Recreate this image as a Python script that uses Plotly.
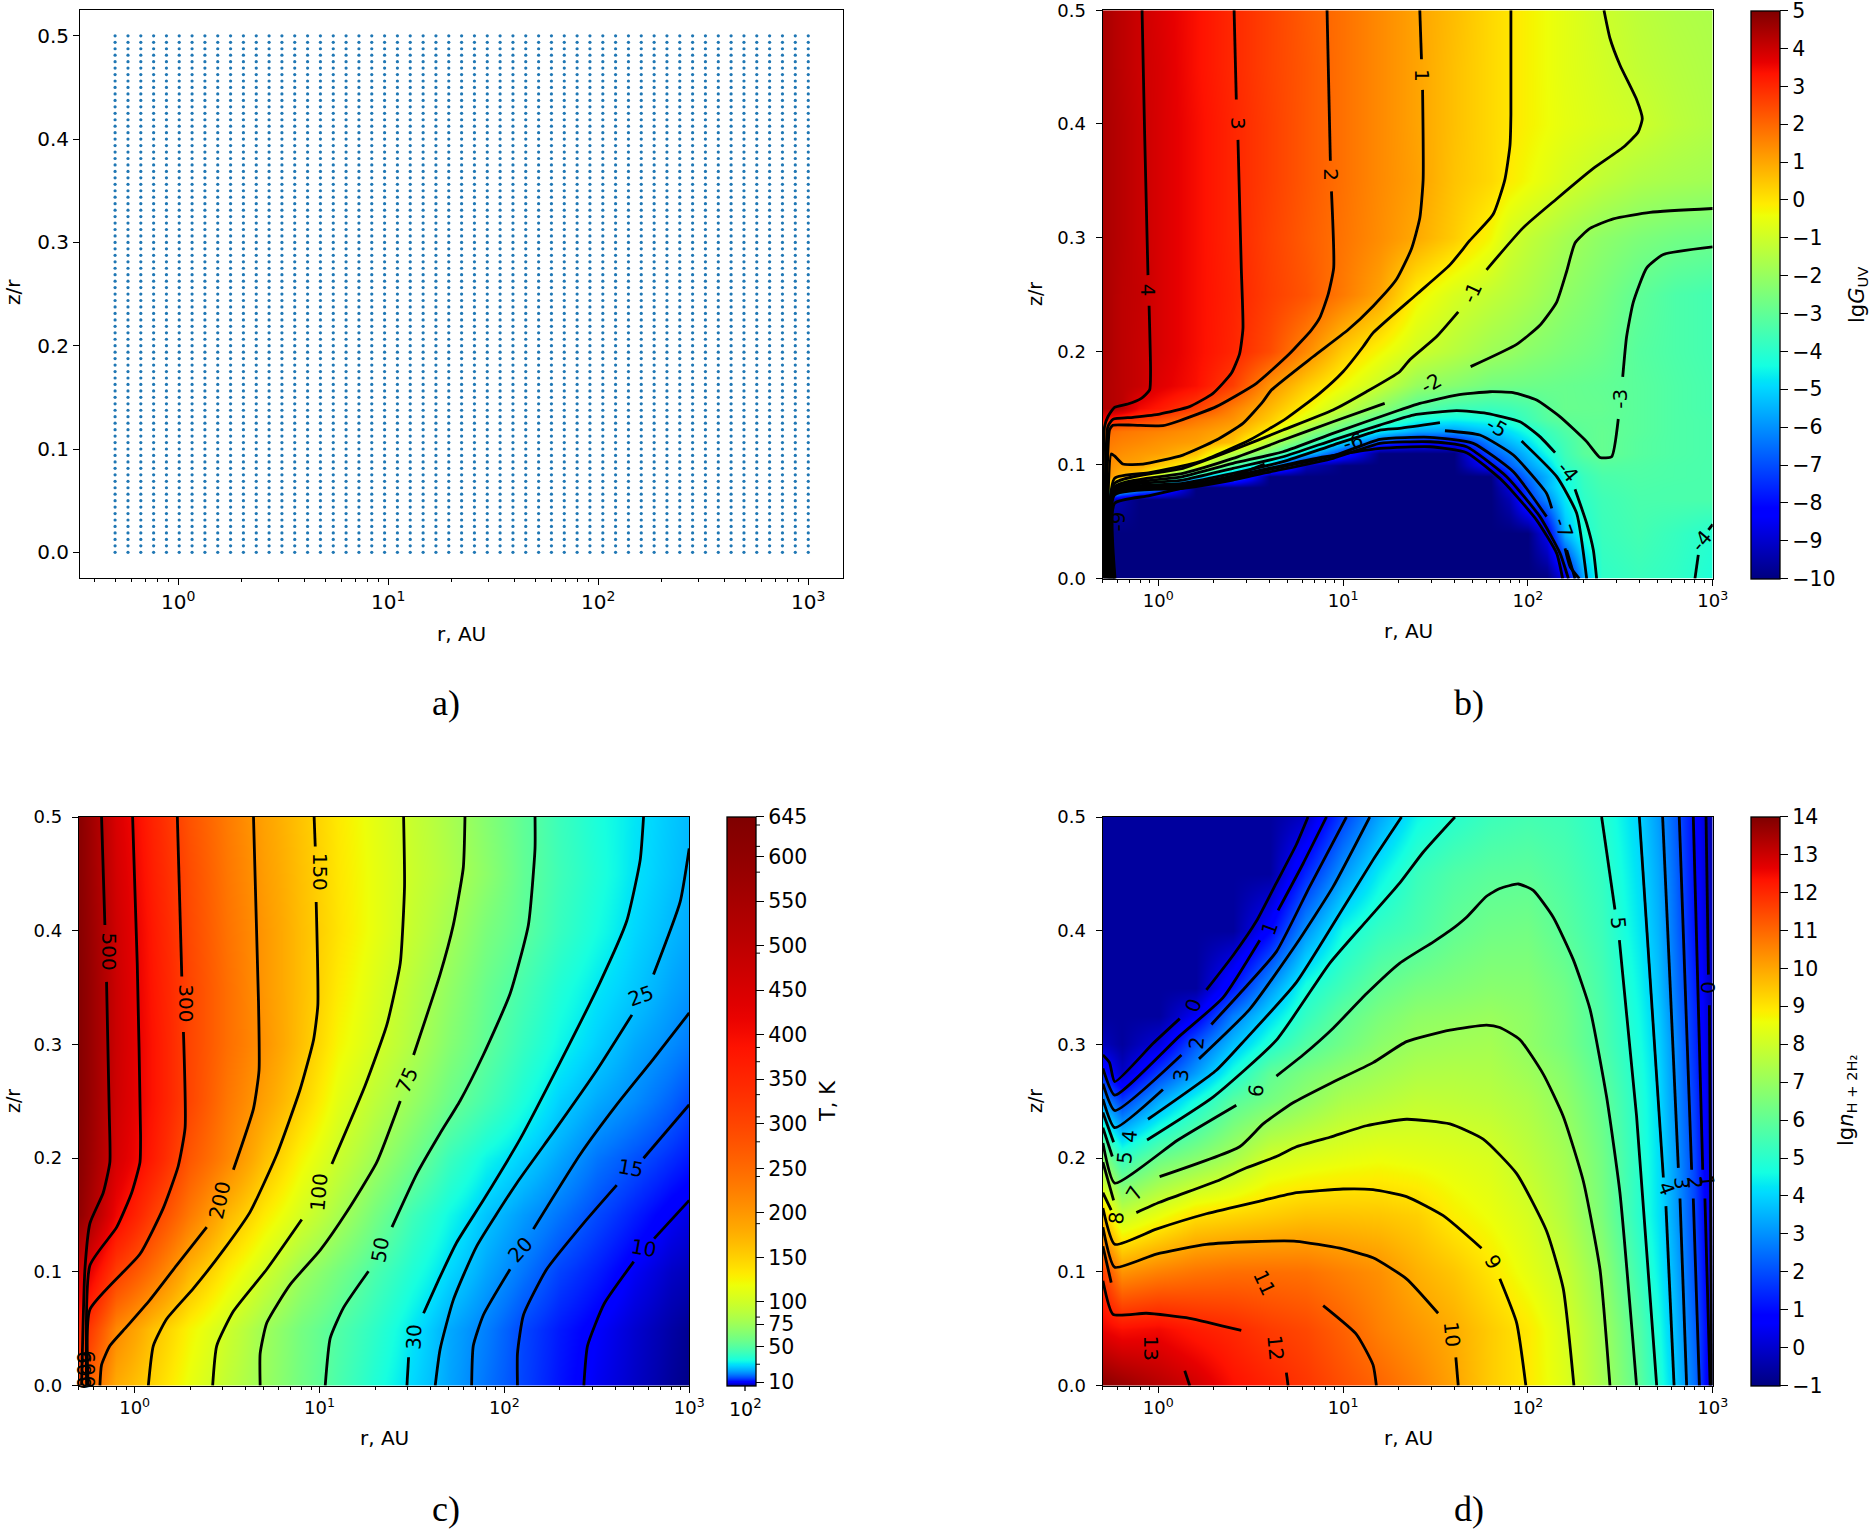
import numpy as np
import plotly.graph_objects as go

W, H = 1871, 1533

# ---------- panel a: computational grid ----------
a_r = [0.5,0.576,0.663,0.763,0.878,1.01,1.163,1.339,1.541,1.774,2.042,2.351,2.706,3.115,3.585,4.127,4.751,5.469,6.295,7.247,
       8.342,9.602,11.05,12.72,14.65,16.86,19.41,22.34,25.72,29.6,34.08,39.23,45.15,51.98,59.83,68.87,79.28,91.26,105.1,120.9,
       139.2,160.2,184.5,212.3,244.4,281.3,323.8,372.8,429.1,494.0,568.6,654.5,753.4,867.3,1000.0]
a_z = [0,0.00625,0.0125,0.01875,0.025,0.03125,0.0375,0.04375,0.05,0.05625,0.0625,0.06875,0.075,0.08125,0.0875,0.09375,
       0.1,0.10625,0.1125,0.11875,0.125,0.13125,0.1375,0.14375,0.15,0.15625,0.1625,0.16875,0.175,0.18125,0.1875,0.19375,
       0.2,0.20625,0.2125,0.21875,0.225,0.23125,0.2375,0.24375,0.25,0.25625,0.2625,0.26875,0.275,0.28125,0.2875,0.29375,
       0.3,0.30625,0.3125,0.31875,0.325,0.33125,0.3375,0.34375,0.35,0.35625,0.3625,0.36875,0.375,0.38125,0.3875,0.39375,
       0.4,0.40625,0.4125,0.41875,0.425,0.43125,0.4375,0.44375,0.45,0.45625,0.4625,0.46875,0.475,0.48125,0.4875,0.49375,0.5]

# ---------- panel b: lg G_UV ----------
b_lgr = [-.3,-.2,-.1,0,.2,.4,.6,.8,1,1.2,1.4,1.6,1.8,1.9,2,2.1,2.2,2.3,2.4,2.6,2.8,3]
b_zr = [0,.04,.07,.08,.09,.10,.11,.12,.13,.14,.15,.17,.2,.25,.3,.35,.4,.45,.5]
b_row00 = [-10,-10,-10,-10,-10,-10,-10,-10,-10,-10,-10,-10,-10,-10,-10,-10,-8.6,-5.6,-3.9,-3.7,-3.85,-4.2]
b_row04 = [-10,-10,-10,-10,-10,-10,-10,-10,-10,-10,-10,-10,-10,-10,-10,-8.5,-5.4,-4.2,-3.7,-3.5,-3.75,-4.05]
b_row07 = [-9,-9.5,-10,-10,-10,-10,-10,-10,-10,-10,-10,-10,-10,-9.3,-7.4,-6.1,-4.7,-3.9,-3.6,-3.4,-3.4,-3.4]
b_row08 = [1.4,-3.2,-5,-6,-10,-10,-10,-10,-10,-10,-10,-10,-10,-8.8,-7,-5.5,-4.5,-3.8,-3.5,-3.35,-3.4,-3.4]
b_row09 = [1.5,.7,.3,-1.2,-4.5,-6,-10,-10,-10,-10,-10,-10,-10,-7.7,-6.4,-5.5,-4.4,-3.7,-3.4,-3.3,-3.35,-3.4]
b_row10 = [1.5,1.1,1,.5,-.5,-3.2,-5.2,-9.2,-10,-10,-10,-10,-8,-6.7,-5.8,-5,-3.8,-3.45,-3.2,-3.25,-3.35,-3.4]
b_row11 = [1.6,1.35,1.2,1.1,.6,-1.4,-2.7,-5,-7.4,-10,-10,-10,-6.8,-6.1,-5.3,-4.4,-3.6,-3.1,-2.9,-3.15,-3.3,-3.4]
b_row12 = [1.75,1.55,1.45,1.3,1.1,.55,-1.5,-3,-5,-7.1,-8.1,-8.05,-6.1,-5.4,-4.8,-3.95,-3.5,-3.05,-2.9,-3.15,-3.3,-3.4]
b_row13 = [2,1.75,1.65,1.55,1.3,.9,-.2,-2,-3.2,-4.7,-5.7,-5.85,-5.2,-4.8,-4.3,-3.7,-3.3,-3.03,-2.9,-3.1,-3.3,-3.4]
b_row14 = [3.5,2.9,2.7,2.4,1.75,1.3,.4,-.7,-2.1,-3.2,-4.3,-4.5,-4.3,-4,-3.6,-3.2,-3,-2.95,-2.95,-3.1,-3.3,-3.4]
b_row15 = [4.4,4.2,3.5,3.25,2.65,1.6,.7,-.2,-1.2,-2.2,-3.2,-3.6,-3.7,-3.6,-3.4,-3.05,-2.85,-2.88,-2.9,-3.1,-3.3,-3.45]
b_row17 = [4.4,4.2,4.05,3.75,3.4,2.65,1.3,.4,-.35,-1.1,-2,-2.3,-2.65,-2.7,-2.75,-2.8,-2.85,-2.9,-2.95,-3.1,-3.3,-3.45]
b_row20 = [4.45,4.2,4.05,3.85,3.45,3.05,2.45,1.47,.4,-.3,-.97,-1.4,-1.85,-2,-2.2,-2.35,-2.5,-2.62,-2.75,-3.15,-3.35,-3.5]
b_row25 = [4.45,4.2,4.1,3.85,3.45,3.1,2.65,2.3,1.7,1.05,-.2,-.8,-1.2,-1.4,-1.6,-1.85,-2.1,-2.3,-2.5,-3,-3.35,-3.5]
b_row30 = [4.45,4.25,4.05,3.85,3.45,3.05,2.6,2.2,1.8,1.4,.95,.4,-.3,-.9,-1.2,-1.45,-1.7,-1.95,-2.15,-2.45,-2.65,-2.75]
b_row35 = [4.45,4.25,4.05,3.85,3.45,3.05,2.65,2.25,1.85,1.45,1.1,.55,.2,-.1,-.35,-.6,-.85,-1.05,-1.25,-1.55,-1.7,-1.8]
b_row40 = [4.45,4.25,4.05,3.85,3.45,3.05,2.65,2.25,1.85,1.45,1.05,.6,.2,0,-.2,-.38,-.55,-.68,-.8,-.98,-1.3,-1.5]
b_row45 = [4.45,4.2,4,3.85,3.4,3,2.6,2.25,1.85,1.45,1.05,.6,.2,0,-.2,-.4,-.6,-.75,-.9,-1.2,-1.4,-1.55]
b_row50 = [4.45,4.2,4,3.8,3.4,3,2.6,2.2,1.85,1.45,1.05,.65,.2,0,-.2,-.4,-.6,-.8,-1,-1.3,-1.5,-1.6]

b_c4 = [(-.088,.5),(-.074,.391),(-.056,.267),None,(-.05,.24),(-.042,.182),(-.047,.166),(-.092,.1586),(-.165,.1536),(-.237,.1507),(-.273,.1424),(-.291,.1337),(-.298,0)]
b_c3 = [(.41,.5),(.422,.4215),None,(.431,.386),(.449,.273),(.458,.22),(.44,.198),(.395,.1806),(.296,.163),(.169,.1513),(.007,.1448),(-.137,.1419),(-.246,.1401),(-.273,.1337),(-.292,0)]
b_c2 = [(.913,.5),(.931,.3677),None,(.937,.3407),(.949,.2734),(.919,.25),(.874,.2296),(.828,.2187),(.711,.198),(.531,.1718),(.314,.1513),(.115,.1389),(.025,.1345),(-.137,.135),(-.246,.135),(-.264,.1308),(-.286,0)]
b_c1 = [(1.415,.5),(1.424,.4569),None,(1.43,.43),(1.433,.3508),(1.415,.3172),(1.37,.2902),(1.289,.2633),(1.162,.2397),(1.027,.2189),(.837,.1952),(.612,.1659),(.566,.1557),(.458,.1366),(.314,.1219),(.133,.1087),(-.083,.1008),(-.192,.1008),(-.237,.1079),(-.255,.1097),(-.28,0)]
b_c0 = [(1.908,.5),(1.908,.4081),(1.903,.3811),(1.875,.3508),(1.812,.3205),(1.686,.2975),(1.578,.276),(1.397,.25),(1.162,.2162),(1.108,.204),(.9995,.182),(.873,.163),(.693,.141),(.494,.1219),(.224,.1029),(-.047,.0932),(-.237,.0882),(-.275,0)]
b_cm1 = [(2.4116,.5),(2.444,.4754),(2.498,.4519),(2.588,.4215),(2.619,.4047),(2.597,.3929),(2.516,.3795),(2.354,.3609),(2.155,.334),(1.975,.3088),(1.776,.2717),None,(1.623,.2347),(1.505,.2128),(1.361,.1926),(1.306,.182),(1.126,.1644),(.945,.1483),(.675,.1307),(.404,.1131),(.133,.097),(-.237,.0838),(-.27,0)]
b_cm2 = [(3,.3256),(2.661,.3222),(2.462,.3165),(2.336,.3081),(2.255,.2953),(2.209,.27),(2.155,.2431),(2.065,.2229),(1.939,.2061),(1.69,.1865),None,(1.225,.1542),(.945,.138),(.675,.1219),(.404,.1058),(.133,.0926),(-.237,.0808),(-.265,0)]
b_cm3 = [(3,.2919),(2.733,.2852),(2.643,.2734),(2.57,.2431),(2.534,.2128),(2.513,.1774),None,(2.489,.1404),(2.453,.1072),(2.39,.1066),(2.318,.1205),(2.173,.1425),(2.047,.1571),(1.92,.1636),(1.794,.1644),(1.614,.1615),(1.415,.1542),(1.306,.1483),(.945,.1278),(.675,.1116),(.404,.1014),(.133,.0897),(-.237,.0794),(-.26,0)]
b_cm4 = [(2.372,0),(2.354,.0252),(2.318,.0486),(2.255,.0786),None,(2.147,.1108),(2.065,.1249),(1.957,.138),(1.776,.1454),(1.614,.1477),(1.379,.1439),(1.198,.1351),(.945,.1219),(.675,.1072),(.404,.097),(.133,.0867),(-.237,.0786),(-.255,0)]
b_cm4b = [(2.904,0),(2.922,.0209),None,(2.977,.0428),(3,.0478)]
b_cm5 = [(2.318,0),(2.264,.0574),(2.156,.0897),(1.966,.121),None,(1.524,.1372),(1.306,.1322),(1.199,.1307),(.946,.1175),(.675,.1029),(.404,.0926),(.133,.0838),(-.237,.0773),(-.25,0)]
b_cm6 = [(2.278,0),(2.228,.0105),(2.201,.0266),None,(2.129,.0618),(2.101,.075),(1.921,.1087),(1.74,.1263),(1.551,.1301),None,(.575,.1008),(.404,.0903),(.133,.0823),(-.237,.0762),(-.245,0)]
b_cm7 = [(2.255,0),(2.21,.0251),None,(2.101,.0545),(1.921,.094),(1.704,.119),(1.47,.1243),(1.199,.1225),(.946,.1079),(.585,.0955),(.404,.0882),(.133,.0809),(-.237,.075),(-.24,0)]
b_cm8 = [(2.219,0),(2.174,.0222),(2.065,.0545),(1.885,.0897),(1.668,.116),(1.47,.1204),(1.199,.119),(.946,.1058),(.585,.0932),(.404,.0867),(.133,.0794),(-.237,.0735),(-.237,0)]
b_cm9 = [(2.188,0),(2.156,.0222),(2.047,.0515),(1.867,.0853),(1.668,.1108),(1.47,.116),(1.199,.1146),(.855,.1058),(.494,.0932),(.224,.0832),(-.047,.073),(-.237,.0662),(-.234,0)]

b_label_text = ["4","3","2","1","-1","-2","-3","-5","-4","-7","-6","-4","-9"]
b_label_lgr = [-.056,.431,.934,1.427,1.695,1.478,2.498,1.831,2.219,2.192,1.054,2.94,-.22]
b_label_z = [.2532,.4,.355,.443,.2515,.1724,.1582,.1336,.094,.0442,.1205,.0327,.05]
b_label_angle = [90,90,90,90,-65,-30,-90,30,50,70,-15,-50,-90]

# ---------- panel c: T ----------
c_lgr = [-.3,-.1,.1,.3,.5,.7,.9,1.1,1.3,1.5,1.7,1.9,2.1,2.3,2.5,2.7,2.9,3]
c_zr = [0,.05,.1,.15,.2,.25,.3,.35,.4,.45,.5]
c_row00 = [290,180,147,115,92,74,59,47,37,29,23,18.3,14.6,11.6,9.5,8,6.7,6.2]
c_row05 = [360,215,162,125,99,76,60,49,40,31,23.5,19.3,14.8,12,10,8.3,7,6.5]
c_row10 = [470,310,240,170,130,100,75,60,47,37,29,23,18.5,14.5,12.2,9.7,8,7.6]
c_row15 = [600,410,310,230,170,132,103,80,60,44,34,26.5,22,18.3,15,12.3,9.8,9]
c_row20 = [620,455,370,275,220,165,125,97,76,59,43,33.5,28,23,18.5,15.7,13.2,12]
c_row25 = [630,470,385,300,235,190,150,112,90,73,57,46,36,28,23.5,20.5,17,15]
c_row30 = [630,475,385,300,245,205,163,125,103,84,66,53,42,33.5,28,23.5,20.5,19]
c_row35 = [630,475,380,300,245,200,165,132,108,88,71,56,46,37,31,27,23,21.5]
c_row40 = [625,470,375,295,240,200,165,137,115,95,78,62,52,42,35,29,25,23.5]
c_row45 = [620,460,365,290,235,195,163,135,115,98,84,69,54,44,37,30.5,26.5,24.8]
c_row50 = [620,450,355,280,230,190,160,133,113,96,81,66,53,43,36,31,27,25.5]

c_500 = [(-.179,.5),(-.161,.405),None,(-.152,.355),(-.137,.237),(-.134,.1965),(-.17,.1696),(-.242,.1427),(-.269,.1023),(-.287,0)]
c_400 = [(-.011,.5),(.014,.3715),(.032,.22),(.029,.1965),(-.016,.1696),(-.097,.1393),(-.242,.1057),(-.26,0)]
c_300 = [(.231,.5),(.255,.3597),None,(.264,.3109),(.273,.2268),(.236,.1931),(.155,.1561),(.029,.1157),(-.242,.067),(-.251,0)]
c_200 = [(.643,.5),(.67,.3378),(.673,.2773),(.643,.2436),(.534,.1898),None,(.39,.1393),(.227,.1057),(.083,.0754),(-.043,.0518),(-.134,.035),(-.179,.0182),(-.188,0)]
c_150 = [(.971,.5),(.977,.4741),None,(.982,.4253),(.991,.3345),(.968,.3042),(.895,.2604),(.769,.2032),(.625,.1528),(.48,.1191),(.318,.0855),(.173,.0585),(.101,.035),(.074,0)]
c_100 = [(1.455,.5),(1.46,.4388),(1.437,.3715),(1.365,.3176),(1.247,.2638),(1.067,.1948),None,(.904,.146),(.715,.1023),(.534,.0653),(.444,.035),(.422,0)]
c_75 = [(1.787,.5),(1.778,.4556),(1.724,.4051),(1.652,.3614),(1.509,.2907),None,(1.437,.2503),(1.31,.1965),(1.148,.1528),(1.004,.1191),(.841,.0888),(.715,.0552),(.679,.0283),(.679,0)]
c_50 = [(2.166,.5),(2.166,.4724),(2.13,.4051),(2.031,.3445),(1.886,.2907),(1.76,.2503),(1.652,.2217),(1.527,.1864),(1.392,.1393),None,(1.265,.1006),(1.13,.0686),(1.058,.0417),(1.031,0)]
c_30 = [(2.753,.5),(2.735,.4623),(2.662,.4085),(2.518,.3546),(2.301,.284),(2.085,.2167),(1.886,.1629),(1.742,.1258),(1.652,.0956),(1.563,.0636),None,(1.482,.0249),(1.473,0)]
c_25 = [(3,.4724),(2.951,.4253),(2.807,.3614),None,(2.69,.326),(2.5,.2773),(2.283,.2268),(2.067,.178),(1.85,.1225),(1.724,.0754),(1.652,.0316),(1.626,0)]
c_20 = [(3,.3277),(2.807,.2873),(2.608,.247),(2.41,.2032),(2.157,.1376),None,(2.031,.1023),(1.886,.0619),(1.832,.035),(1.823,0)]
c_15 = [(3,.247),(2.753,.1999),None,(2.608,.1763),(2.428,.1427),(2.229,.1023),(2.103,.0619),(2.071,.0283),(2.071,0)]
c_10 = [(3,.1629),(2.81,.1292),None,(2.7,.109),(2.54,.072),(2.45,.035),(2.43,0)]

c_label_text = ["500","300","150","200","100","75","50","30","25","20","15","10","600","600"]
c_label_lgr = [-.137,.278,1.0,.462,.995,1.473,1.329,1.513,2.735,2.085,2.68,2.753,-.27,-.25]
c_label_z = [.3815,.3361,.4515,.1629,.1696,.2688,.1191,.0424,.3428,.1191,.1915,.1208,.014,.014]
c_label_angle = [90,90,90,-78,-85,-65,-80,-88,-20,-48,10,10,90,90]
c_cbar_ticks = [10,50,75,100,150,200,250,300,350,400,450,500,550,600,645]
c_cbar_minor = [30,83,188,241,280,308,333,370,386,492,583,612,636]

# ---------- panel d: lg n ----------
d_lgr = [-.3,-.2,0,.2,.4,.6,.8,1,1.2,1.4,1.6,1.8,2,2.2,2.4,2.6,2.7,2.8,2.9,3]
d_zr = [0,.05,.1,.15,.2,.25,.275,.3,.325,.35,.4,.45,.5]
d_row00 = [13.9,13.7,13.3,12.95,12.4,12.1,11.8,11.4,11.05,10.6,10.05,9.4,8.95,8.3,7.3,5.95,4.95,3.85,2.5,-.1]
d_row05 = [12.6,12.4,12.5,12.2,12,11.7,11.5,11.1,10.6,10.25,9.9,9.4,8.95,8.2,7.2,5.75,4.75,3.6,2.3,.2]
d_row10 = [11.7,10.3,10.6,10.8,10.9,10.9,10.85,10.6,10.35,9.85,9.5,9,8.45,7.9,6.9,5.35,4.45,3.4,2.05,.1]
d_row15 = [9.4,7.9,8.5,9.1,9.25,9.4,9.55,9.55,9.5,9.35,8.85,8.55,8.15,7.5,6.5,5,4.25,3.2,1.9,0]
d_row20 = [6.8,5.2,6.2,6.7,7.3,8.1,8.3,8.45,8.55,8.45,8.35,8.2,7.75,7.25,6.35,5,4.2,3.15,1.85,-.1]
d_row25 = [3.1,1.8,3.4,4.7,5.85,6.4,6.9,7.4,7.6,7.8,7.75,7.65,7.4,6.9,6.1,4.9,4.15,3,1.7,-.2]
d_row275 = [1.3,-.1,1.8,3.2,4.75,6,6.5,6.9,7.2,7.45,7.5,7.45,7.15,6.7,5.9,4.8,4.1,2.95,1.6,-.25]
d_row30 = [-.2,-.6,.2,2.2,3.7,4.9,5.75,6.3,6.8,7.1,7.2,7.25,6.9,6.45,5.7,4.7,4,2.9,1.5,-.3]
d_row325 = [-.6,-.6,-.6,.6,2.75,4.1,5.2,6,6.5,6.85,6.95,7.05,6.85,6.4,5.65,4.6,3.9,2.75,1.45,-.35]
d_row35 = [-.6,-.6,-.6,-.6,1.2,3.15,4.75,5.45,6.1,6.45,6.6,6.75,6.7,6.3,5.55,4.5,3.75,2.6,1.35,-.4]
d_row40 = [-.6,-.6,-.6,-.6,-.6,.9,3.1,4.6,5.25,5.6,6.05,6.3,6.35,5.9,5.35,4.3,3.55,2.45,1.1,-.4]
d_row45 = [-.6,-.6,-.6,-.6,-.6,-.6,1.45,3.15,4.4,5.3,5.7,5.9,5.95,5.65,5.2,4.15,3.4,2.35,1,-.5]
d_row50 = [-.6,-.6,-.6,-.6,-.6,-.6,-.1,1.85,3.35,4.5,4.98,5.35,5.5,5.4,5,4,3.2,2.2,.95,-.5]

d_c0 = [(-.3,.2907),(-.264,.284),(-.236,.2672),(-.029,.3008),(.116,.3227),None,(.26,.3479),(.404,.3782),(.531,.4085),(.639,.4421),(.747,.4758),(.81,.5)]
d_c0r = [(2.964,.5),(2.977,.3614),None,(2.982,.3345),(2.995,0)]
d_c1 = [(-.3,.2789),(-.236,.2554),(.116,.3075),(.35,.3412),(.549,.3917),None,(.648,.4179),(.783,.4589),(.91,.5)]
d_c1r = [(2.895,.5),(2.946,.1898),None,(2.958,.1645),(2.986,0)]
d_c2 = [(-.3,.2655),(-.236,.2419),(.125,.2907),None,(.287,.3176),(.458,.3479),(.639,.3816),(.819,.4388),(1.018,.5)]
d_c2r = [(2.819,.5),(2.886,.1898),None,(2.895,.1645),(2.928,0)]
d_c3 = [(-.3,.252),(-.236,.2268),(.025,.2604),None,(.22,.2873),(.495,.3311),(.747,.3883),(.946,.4388),(1.144,.5)]
d_c3r = [(2.729,.5),(2.814,.1915),None,(2.823,.1645),(2.859,0)]
d_c4 = [(-.3,.2402),(-.242,.214),None,(-.056,.2342),(.314,.2773),(.468,.3038),(.747,.3546),(.982,.4152),(1.162,.4623),(1.316,.5)]
d_c4r = [(2.603,.5),(2.733,.183),None,(2.747,.1578),(2.791,0)]
d_c5 = [(-.3,.2268),(-.249,.2015),None,(-.061,.216),(.296,.2537),(.639,.3038),(.928,.3715),(1.126,.4085),(1.307,.4421),(1.433,.469),(1.605,.5)]
d_c5r = [(2.399,.5),(2.471,.4186),None,(2.495,.3917),(2.588,.2369),(2.697,0)]
d_c6 = [(-.3,.2133),(-.236,.178),(.106,.216),(.422,.2466),None,(.639,.2722),(.783,.2907),(.946,.3143),(1.126,.3445),(1.307,.3715),(1.487,.39),(1.578,.4),(1.668,.4119),(1.776,.4303),(1.848,.4371),(1.948,.4411),(2.029,.4354),(2.137,.4119),(2.245,.3748),(2.336,.3311),(2.426,.2537),(2.498,.1696),(2.588,0)]
d_c7 = [(-.3,.1965),(-.242,.1629),None,(.007,.1837),(.44,.21),(.567,.2301),(.729,.2487),(.928,.2655),(1.162,.284),(1.343,.3025),(1.578,.3126),(1.776,.317),(1.848,.3149),(1.957,.3042),(2.083,.2739),(2.191,.2369),(2.3,.1797),(2.39,.1023),(2.444,0)]
d_c8 = [(-.3,.1696),(-.255,.1544),None,(-.119,.1521),(.007,.1612),(.314,.1797),(.477,.1915),(.639,.2015),(.747,.21),(.928,.2184),(1.126,.2285),(1.343,.2342),(1.578,.2301),(1.758,.2167),(1.939,.1864),(2.101,.1359),(2.191,.0855),(2.249,0)]
d_c9 = [(-.3,.1561),(-.236,.1242),(-.011,.1376),(.26,.1511),(.567,.1629),(.747,.1696),(1,.1729),(1.162,.1723),(1.343,.1662),(1.542,.1494),(1.749,.1208),None,(1.848,.0939),(1.939,.0552),(1.989,0)]
d_c10 = [(-.3,.1393),(-.236,.104),(-.011,.1157),(.26,.1242),(.495,.1265),(.747,.1269),(.982,.1208),(1.162,.1124),(1.343,.0939),(1.514,.0636),None,(1.61,.0249),(1.623,0)]
d_c11 = [(-.3,.1225),(-.255,.0905),None,(.892,.0703),(1.072,.0451),(1.162,.0182),(1.18,0)]
d_c12 = [(-.3,.0922),(-.245,.0626),(-.065,.0636),(.17,.0592),(.449,.0485),None,(.693,.0114),(.702,0)]
d_c13 = [(.143,.0131),(.17,0)]

d_label_text = ["0","1","2","3","4","5","6","7","8","9","10","11","12","13","5","0","4","3","2","1"]
d_label_lgr = [.191,.603,.209,.125,-.155,-.182,.529,-.128,-.227,1.812,1.587,.576,.635,-.038,2.489,2.973,2.751,2.832,2.904,2.967]
d_label_z = [.3345,.4024,.3018,.2729,.2194,.2009,.2591,.1693,.1474,.109,.0451,.0905,.0333,.0333,.4068,.3496,.1729,.178,.178,.1797]
d_label_angle = [-70,-70,-85,-85,-85,-85,-85,-60,-85,60,85,65,85,90,85,90,70,85,85,85]

# ---------- styling helpers ----------
def px(x): return x / W
def py(y): return 1 - y / H

def jet(t):
    r = np.interp(t, [0, .35, .66, .89, 1], [0, 0, 1, 1, .5])
    g = np.interp(t, [0, .125, .375, .64, .91, 1], [0, 0, 1, 1, 0, 0])
    b = np.interp(t, [0, .11, .34, .65, 1], [.5, 1, 1, 0, 0])
    return f"rgb({int(r*255)},{int(g*255)},{int(b*255)})"

JET_STOPS = [0, .11, .125, .34, .35, .375, .5, .64, .65, .66, .89, .91, 1]
JET = [[s, jet(s)] for s in JET_STOPS]

T_MIN, T_MAX = 6.0, 645.0
T_samples = np.geomspace(T_MIN, T_MAX, 120)
JET_T = [[float((t - T_MIN) / (T_MAX - T_MIN)),
          jet(float(np.log(t / T_MIN) / np.log(T_MAX / T_MIN)))] for t in T_samples]
JET_T[0][0], JET_T[-1][0] = 0.0, 1.0

TICK_FONT = dict(family="DejaVu Sans", size=18, color="black")
TEXT_FONT = dict(family="DejaVu Sans", size=20, color="black")
CBAR_FONT = dict(family="DejaVu Sans", size=20.5, color="black")

fig = go.Figure()

PANELS = {
    "a": dict(ax="", box=(80.3, 842.5, 10, 577.7), xr=[-.4667, 3.163], yr=[-.0246, .525]),
    "b": dict(ax="2", box=(1102.7, 1712.7, 10.3, 578.6), xr=[-.301, 3], yr=[0, .5]),
    "c": dict(ax="3", box=(79, 689.2, 817, 1385.6), xr=[-.301, 3], yr=[0, .5]),
    "d": dict(ax="4", box=(1102.7, 1712.7, 817, 1385.6), xr=[-.301, 3], yr=[0, .5]),
}

minor_r = [k * 10.0 ** e for e in range(-1, 3) for k in range(2, 10) if k * 10.0 ** e >= .4]

for name, p in PANELS.items():
    x0, x1, y0, y1 = p["box"]
    ax = p["ax"]
    size = 20 if name == "a" else 18
    tf = dict(TICK_FONT, size=size)
    fig.layout["xaxis" + ax] = dict(
        domain=[px(x0), px(x1)], type="log", range=p["xr"], anchor="y" + ax,
        tickvals=[1, 10, 100, 1000],
        ticktext=["10<sup>0</sup>", "10<sup>1</sup>", "10<sup>2</sup>", "10<sup>3</sup>"],
        ticks="outside", ticklen=6, tickwidth=1.3, tickcolor="black", tickfont=tf,
        ticklabeloverflow="allow",
        minor=dict(tickvals=minor_r, ticks="outside", ticklen=3.5, tickwidth=1, tickcolor="black"),
        showgrid=False, zeroline=False, showline=True, linecolor="black", linewidth=1.4, mirror=True)
    fig.layout["yaxis" + ax] = dict(
        domain=[py(y1), py(y0)], range=p["yr"], anchor="x" + ax,
        tickvals=[0, .1, .2, .3, .4, .5], ticktext=["0.0", "0.1", "0.2", "0.3", "0.4", "0.5"],
        ticks="outside", ticklen=6, tickwidth=1.3, tickcolor="black", tickfont=tf,
        ticklabelstandoff=0 if name == "a" else 6, ticklabeloverflow="allow",
        showgrid=False, zeroline=False, showline=True, linecolor="black", linewidth=1.4, mirror=True)

# panel a
gx, gz = np.meshgrid(a_r, a_z)
fig.add_trace(go.Scatter(x=gx.ravel(), y=gz.ravel(), mode="markers",
                         marker=dict(size=3.2, color="#1f77b4"), xaxis="x", yaxis="y", showlegend=False))

def heat(lgr, zr, rows, ax, scale, zmin, zmax, cb):
    fig.add_trace(go.Heatmap(x=10 ** np.array(lgr), y=zr, z=rows, zsmooth="best", colorscale=scale,
                             zmin=zmin, zmax=zmax, xaxis="x" + ax, yaxis="y" + ax, colorbar=cb,
                             hoverinfo="skip"))

def cbar(x_px, box, tickvals, ticktext=None):
    y0, y1 = box
    d = dict(x=px(x_px), xanchor="left", xpad=0, ypad=0, thicknessmode="pixels", thickness=29,
             lenmode="fraction", len=(y1 - y0) / H, y=py(y1), yanchor="bottom",
             outlinecolor="black", outlinewidth=1.3, ticks="outside", ticklen=8, tickwidth=1.3,
             tickcolor="black", tickfont=dict(CBAR_FONT), tickvals=tickvals, ticklabeloverflow="allow")
    if ticktext:
        d["ticktext"] = ticktext
    return d

b_rows = [b_row00, b_row04, b_row07, b_row08, b_row09, b_row10, b_row11, b_row12, b_row13, b_row14,
          b_row15, b_row17, b_row20, b_row25, b_row30, b_row35, b_row40, b_row45, b_row50]
c_rows = [c_row00, c_row05, c_row10, c_row15, c_row20, c_row25, c_row30, c_row35, c_row40, c_row45, c_row50]
d_rows = [d_row00, d_row05, d_row10, d_row15, d_row20, d_row25, d_row275, d_row30, d_row325, d_row35, d_row40, d_row45, d_row50]

heat(b_lgr, b_zr, b_rows, "2", JET, -10, 5,
     cbar(1750.7, (10.3, 578.6), list(range(-10, 6))))
heat(c_lgr, c_zr, c_rows, "3", JET_T, T_MIN, T_MAX,
     cbar(726.7, (817, 1385.6), c_cbar_ticks, [str(t) for t in c_cbar_ticks]))
heat(d_lgr, d_zr, d_rows, "4", JET, -1, 14,
     cbar(1750.7, (817, 1385.6), list(range(-1, 15))))

def contour(points, ax):
    xs = [None if q is None else 10 ** q[0] for q in points]
    ys = [None if q is None else q[1] for q in points]
    fig.add_trace(go.Scatter(x=xs, y=ys, mode="lines", xaxis="x" + ax, yaxis="y" + ax, showlegend=False,
                             line=dict(color="black", width=2.8, shape="spline", smoothing=.5),
                             hoverinfo="skip", cliponaxis=True))

for line in [b_c4, b_c3, b_c2, b_c1, b_c0, b_cm1, b_cm2, b_cm3, b_cm4, b_cm4b, b_cm5, b_cm6, b_cm7, b_cm8, b_cm9]:
    contour(line, "2")
for line in [c_500, c_400, c_300, c_200, c_150, c_100, c_75, c_50, c_30, c_25, c_20, c_15, c_10]:
    contour(line, "3")
for line in [d_c0, d_c0r, d_c1, d_c1r, d_c2, d_c2r, d_c3, d_c3r, d_c4, d_c4r, d_c5, d_c5r,
             d_c6, d_c7, d_c8, d_c9, d_c10, d_c11, d_c12, d_c13]:
    contour(line, "4")

ann = []
def labels(text, lgr, z, angle, ax):
    for t, x, y, a in zip(text, lgr, z, angle):
        ann.append(dict(text=t, x=x, y=y, xref="x" + ax, yref="y" + ax, textangle=a, showarrow=False,
                        font=TEXT_FONT))
labels(b_label_text, b_label_lgr, b_label_z, b_label_angle, "2")
labels(c_label_text, c_label_lgr, c_label_z, c_label_angle, "3")
labels(d_label_text, d_label_lgr, d_label_z, d_label_angle, "4")

def page_text(t, x, y, size=20, angle=0, family="DejaVu Sans"):
    ann.append(dict(text=t, x=px(x), y=py(y), xref="paper", yref="paper", showarrow=False, textangle=angle,
                    xanchor="center", yanchor="middle", font=dict(family=family, size=size, color="black")))

page_text("r, AU", 461, 634)
page_text("z/r", 13, 292, 20, -90)
page_text("r, AU", 1408, 631)
page_text("z/r", 1035, 294, 19, -90)
page_text("r, AU", 384, 1438)
page_text("z/r", 13, 1101, 19, -90)
page_text("r, AU", 1408, 1438)
page_text("z/r", 1035, 1101, 19, -90)
page_text("lg<i>G</i><sub>UV</sub>", 1858, 295, 21, -90)
page_text("T, K", 828, 1101, 21, -90)
page_text("lg<i>n</i><sub>H + 2H₂</sub>", 1847, 1101, 21, -90)
page_text("10<sup>2</sup>", 745, 1408, 19)
page_text("a)", 446, 703, 36, family="Liberation Serif")
page_text("b)", 1469, 703, 36, family="Liberation Serif")
page_text("c)", 446, 1509, 36, family="Liberation Serif")
page_text("d)", 1469, 1509, 36, family="Liberation Serif")

shapes = []
for t in c_cbar_minor:
    y = 817 + (T_MAX - t) / (T_MAX - T_MIN) * (1385.6 - 817)
    shapes.append(dict(type="line", xref="paper", yref="paper", x0=px(755.7), x1=px(760), y0=py(y), y1=py(y),
                       line=dict(color="black", width=1)))
shapes.append(dict(type="line", xref="paper", yref="paper", x0=px(745), x1=px(745), y0=py(1385.6), y1=py(1391),
                   line=dict(color="black", width=1.3)))

fig.update_layout(width=W, height=H, margin=dict(l=0, r=0, t=0, b=0, autoexpand=False), paper_bgcolor="white", plot_bgcolor="white",
                  showlegend=False, annotations=ann, shapes=shapes, font=dict(family="DejaVu Sans", color="black"))

fig.write_html("out.html", post_script="document.body.style.margin='0';", config={"displayModeBar": False})
